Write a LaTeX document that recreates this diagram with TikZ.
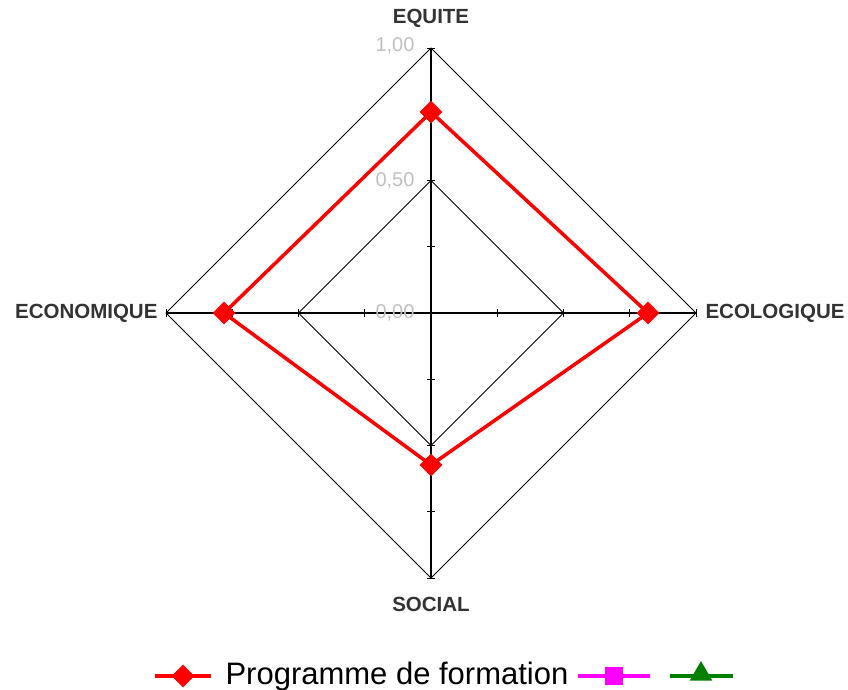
\documentclass[tikz,border=0pt]{standalone}
\usepackage{fontspec}
\setmainfont{Liberation Sans}
\usetikzlibrary{shapes.geometric}
\definecolor{rose}{RGB}{255,0,255}
\definecolor{vert}{RGB}{0,128,0}
\begin{document}
\begin{tikzpicture}[x=1pt,y=-1pt,
  grid/.style={black, line width=0.8pt},
  axe/.style={black, line width=1.1pt},
  serie/.style={red, line width=3.5pt, line join=miter},
  losange/.style={diamond, fill=red, inner sep=0pt, minimum size=23pt},
  carre/.style={rectangle, fill=rose, inner sep=0pt, minimum size=18pt},
  triangle/.style={regular polygon, regular polygon sides=3, fill=vert, inner sep=0pt, minimum size=26pt},
  axlabel/.style={font=\bfseries\fontsize{20.5}{20.5}\selectfont, text=black!80},
  valeur/.style={font=\fontsize{20}{20}\selectfont, text=black!25, anchor=east}]
\useasboundingbox (0,0) rectangle (848,689);
% axes
\coordinate (c) at (431,313);
\coordinate (n1) at (431,48);
\coordinate (e1) at (696,313);
\coordinate (s1) at (431,578);
\coordinate (w1) at (166,313);
\coordinate (n5) at (431,180.5);
\coordinate (e5) at (563.5,313);
\coordinate (s5) at (431,445.5);
\coordinate (w5) at (298.5,313);
\draw[grid] (n1) -- (e1) -- (s1) -- (w1) -- cycle;
\draw[grid] (n5) -- (e5) -- (s5) -- (w5) -- cycle;
\draw[axe] (n1) -- (s1);
\draw[axe] (w1) -- (e1);
\foreach \r in {66.25,132.5,198.75,265}{
  \draw[grid] (427,313-\r) -- (435,313-\r);
  \draw[grid] (427,313+\r) -- (435,313+\r);
  \draw[grid] (431-\r,309) -- (431-\r,317);
  \draw[grid] (431+\r,309) -- (431+\r,317);
}
\node[valeur] (v100) at (418,46) {1,00};
\node[valeur] (v050) at (418,181) {0,50};
\node[valeur] (v000) at (418,313) {0,00};
\node[axlabel] (equite) at (431,18) {EQUITE};
\node[axlabel, anchor=west] (ecolo) at (702,313) {ECOLOGIQUE};
\node[axlabel] (social) at (431,604) {SOCIAL};
\node[axlabel, anchor=east] (econo) at (161,313) {ECONOMIQUE};
% serie
\coordinate (p1) at (431,112);
\coordinate (p2) at (648,313);
\coordinate (p3) at (431,465);
\coordinate (p4) at (224,313);
\draw[serie] (p1) -- (p2) -- (p3) -- (p4) -- cycle;
\node[losange] (m1) at (p1){};
\node[losange] (m2) at (p2){};
\node[losange] (m3) at (p3){};
\node[losange] (m4) at (p4){};
% legende
\coordinate (la) at (155,676);
\coordinate (lb) at (211,676);
\draw[serie] (la) -- (lb);
\node[losange] (lm1) at (183,676){};
\node[font=\fontsize{31}{31}\selectfont, anchor=base west] (leg) at (222,684) {Programme de formation};
\coordinate (lc) at (578,676);
\coordinate (ld) at (650,676);
\draw[serie, rose] (lc) -- (ld);
\node[carre] (lm2) at (614,676){};
\coordinate (le) at (670,676);
\coordinate (lf) at (733,676);
\draw[serie, vert] (le) -- (lf);
\node[triangle] (lm3) at (701,674){};
\end{tikzpicture}
\end{document}
